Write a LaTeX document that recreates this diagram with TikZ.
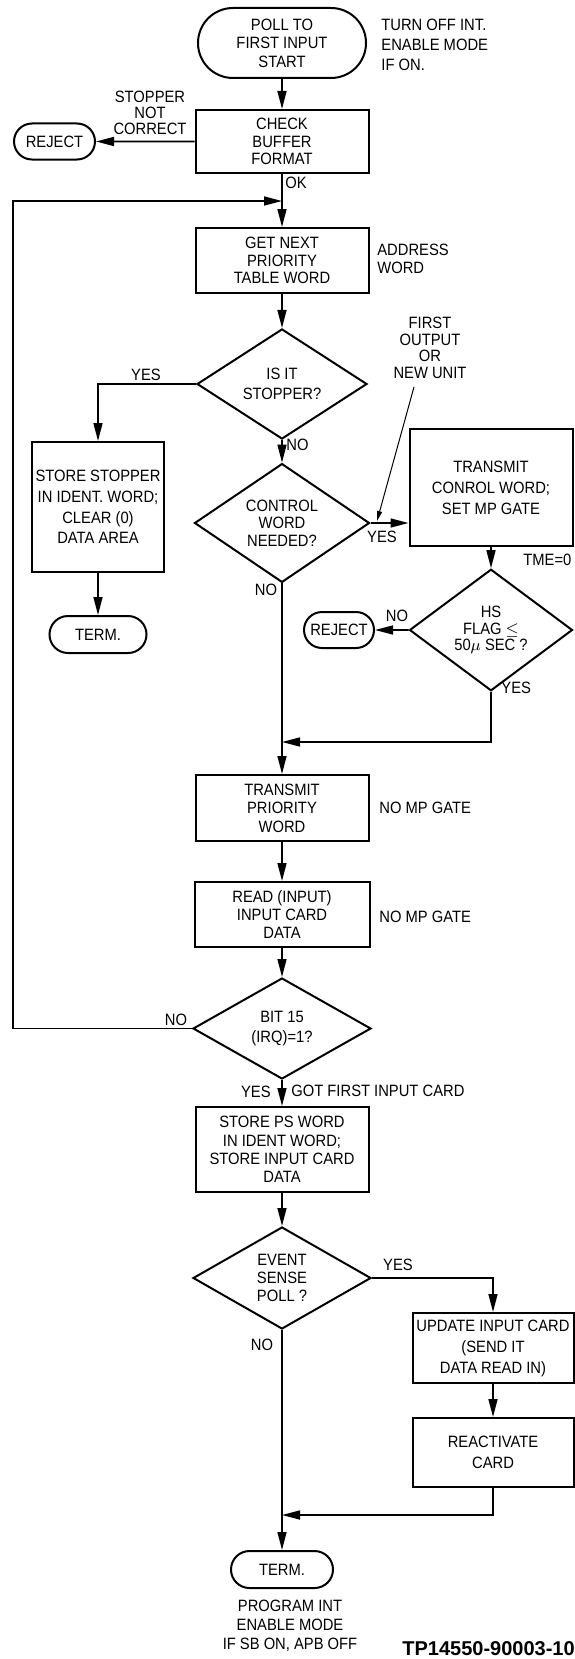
\documentclass[tikz,border=0pt]{standalone}
\usepackage{fontspec}
\setmainfont{Liberation Sans}[FakeStretch=0.9]
\newfontfamily\tagfont{Liberation Sans}
\usetikzlibrary{arrows.meta}
\usetikzlibrary{positioning}
\usetikzlibrary{shapes.geometric, shapes.misc}

\tikzset{
  procbox/.style={rectangle, draw, line width=1pt, align=center, inner sep=1pt},
  termbox/.style={rounded rectangle, draw, line width=1pt, align=center, inner sep=1pt},
  decide/.style={diamond, draw, line width=1pt, align=center, inner sep=0pt},
  flow/.style={line width=0.8pt, -{Triangle[length=9pt,width=4.5pt]}},
  pointer/.style={line width=0.5pt, -{Triangle[length=5pt,width=2.5pt]}},
  tag/.style={inner sep=1pt},
  note/.style={inner sep=1pt, anchor=west, align=left},
}

\begin{document}
\begin{tikzpicture}[x=0.5pt, y=-0.5pt, font=\fontsize{8.2}{9.2}\selectfont]
\useasboundingbox (0,0) rectangle (574,1659);

% main column
\node[termbox, minimum width=86pt, minimum height=35pt] (start) at (282,43) {POLL TO\\FIRST INPUT\\START};
\node[procbox, minimum width=86.5pt, minimum height=31.5pt, font=\fontsize{8.2}{8.6}\selectfont] (check) at (282,141.5) {CHECK\\BUFFER\\FORMAT};
\node[procbox, minimum width=86.5pt, minimum height=32.5pt, font=\fontsize{8.2}{8.6}\selectfont] (getnext) at (282,260.5) {GET NEXT\\PRIORITY\\TABLE WORD};
\node[decide, minimum width=85pt, minimum height=49pt, font=\fontsize{8.2}{10}\selectfont] (stopq) at (282,384) {IS IT\\STOPPER?};
\node[decide, minimum width=87.5pt, minimum height=50pt, font=\fontsize{8.2}{8.8}\selectfont] (ctrlq) at (282,523) {CONTROL\\WORD\\NEEDED?};
\node[procbox, minimum width=86.5pt, minimum height=33pt] (xmitprio) at (282,808) {TRANSMIT\\PRIORITY\\WORD};
\node[procbox, minimum width=87.5pt, minimum height=32.5pt] (readin) at (282,914.5) {READ (INPUT)\\INPUT CARD\\DATA};
\node[decide, minimum width=89pt, minimum height=50.5pt, font=\fontsize{8.2}{10.4}\selectfont] (bitq) at (282,1028.5) {BIT 15\\(IRQ)=1?};
\node[procbox, minimum width=86.5pt, minimum height=42.5pt] (storeps) at (282,1149.5) {STORE PS WORD\\IN IDENT WORD;\\STORE INPUT CARD\\DATA};
\node[decide, minimum width=89pt, minimum height=51pt] (eventq) at (282,1278) {EVENT\\SENSE\\POLL ?};
\node[termbox, minimum width=53pt, minimum height=18.5pt] (term2) at (282,1569.5) {TERM.};

% left column
\node[termbox, minimum width=42.5pt, minimum height=18pt] (reject1) at (54.5,141.5) {REJECT};
\node[procbox, minimum width=66pt, minimum height=65pt, font=\fontsize{8.2}{10.3}\selectfont] (storestop) at (98,507) {STORE STOPPER\\IN IDENT. WORD;\\CLEAR (0)\\DATA AREA};
\node[termbox, minimum width=50.5pt, minimum height=18.5pt] (term1) at (98,634.5) {TERM.};

% right column
\node[procbox, minimum width=81.5pt, minimum height=58.5pt, font=\fontsize{8.2}{10.5}\selectfont] (xmitctrl) at (491,487.5) {TRANSMIT\\CONROL WORD;\\SET MP GATE};
\node[decide, minimum width=81.5pt, minimum height=47pt, font=\fontsize{8.2}{8.4}\selectfont] (hsq) at (491,630) {HS\\FLAG $\leq$\\50$\mu$ SEC ?};
\node[termbox, minimum width=37pt, minimum height=18pt] (reject2) at (339,630) {REJECT};
\node[procbox, minimum width=80.5pt, minimum height=35pt, inner sep=0pt, font=\fontsize{8.2}{10.5}\selectfont] (update) at (493,1348) {UPDATE INPUT CARD\\(SEND IT\\DATA READ IN)};
\node[procbox, minimum width=80.5pt, minimum height=34.5pt, font=\fontsize{8.2}{10.5}\selectfont] (react) at (493,1452.5) {REACTIVATE\\CARD};

% junctions
\coordinate (loopj) at (282,201);
\coordinate (lefttrack) at (13,201);
\coordinate (join1) at (282,742);
\coordinate (join2) at (282,1515);
\coordinate (fotail) at (414,387);
\coordinate (fotip) at (377,521);

% connectors
\draw[flow] (start) -- (check);
\draw[flow] (check) -- (reject1);
\draw[flow] (check) -- (getnext);
\draw[flow] (getnext) -- (stopq);
\draw[flow] (stopq.west) -| (storestop.north);
\draw[flow] (stopq) -- (ctrlq);
\draw[flow] (ctrlq.east) -- (ctrlq.east -| xmitctrl.west);
\draw[flow] (storestop) -- (term1);
\draw[flow] (xmitctrl) -- (hsq);
\draw[flow] (hsq) -- (reject2);
\draw[flow] (hsq.south) |- (join1);
\draw[flow] (ctrlq) -- (xmitprio);
\draw[flow] (xmitprio) -- (readin);
\draw[flow] (readin) -- (bitq);
\draw[flow] (bitq.west) -| (lefttrack) -- (loopj);
\draw[flow] (bitq) -- (storeps);
\draw[flow] (storeps) -- (eventq);
\draw[flow] (eventq.east) -| (update.north);
\draw[flow] (update) -- (react);
\draw[flow] (react.south) |- (join2);
\draw[flow] (eventq) -- (term2);
\draw[pointer] (fotail) -- (fotip);

% side notes
\node[note, font=\fontsize{8.2}{10}\selectfont] (startnote) at (379,45) {TURN OFF INT.\\ENABLE MODE\\IF ON.};
\node[tag, align=center, font=\fontsize{8.2}{8}\selectfont] (stoplbl) at (150,113) {STOPPER\\NOT\\CORRECT};
\node[note] (oklbl) at (283,183) {OK};
\node[note] (addrnote) at (375,259) {ADDRESS\\WORD};
\node[tag] (yes1) at (146,375) {YES};
\node[note] (no1) at (284,445) {NO};
\node[tag, align=center, font=\fontsize{8.2}{8.3}\selectfont] (fonote) at (430,348) {FIRST\\OUTPUT\\OR\\NEW UNIT};
\node[tag] (yes2) at (382,537) {YES};
\node[tag] (no2) at (266,590) {NO};
\node[note] (tmelbl) at (521,560) {TME=0};
\node[tag] (no3) at (397,616) {NO};
\node[note] (yes3) at (499,688) {YES};
\node[note] (mpnote1) at (377,808) {NO MP GATE};
\node[note] (mpnote2) at (377,917) {NO MP GATE};
\node[tag] (no4) at (176,1020) {NO};
\node[tag, anchor=east] (yes4) at (273,1092) {YES};
\node[note] (gotlbl) at (289,1091) {GOT FIRST INPUT CARD};
\node[tag] (yes5) at (398,1265) {YES};
\node[tag] (no5) at (262,1345) {NO};
\node[tag, align=center, font=\fontsize{8.2}{9.5}\selectfont] (endnote) at (290,1626) {PROGRAM INT\\ENABLE MODE\\IF SB ON, APB OFF};
\node[note, font=\tagfont\bfseries\fontsize{10}{12}\selectfont] (figtag) at (400,1649) {TP14550-90003-10};

\end{tikzpicture}
\end{document}
